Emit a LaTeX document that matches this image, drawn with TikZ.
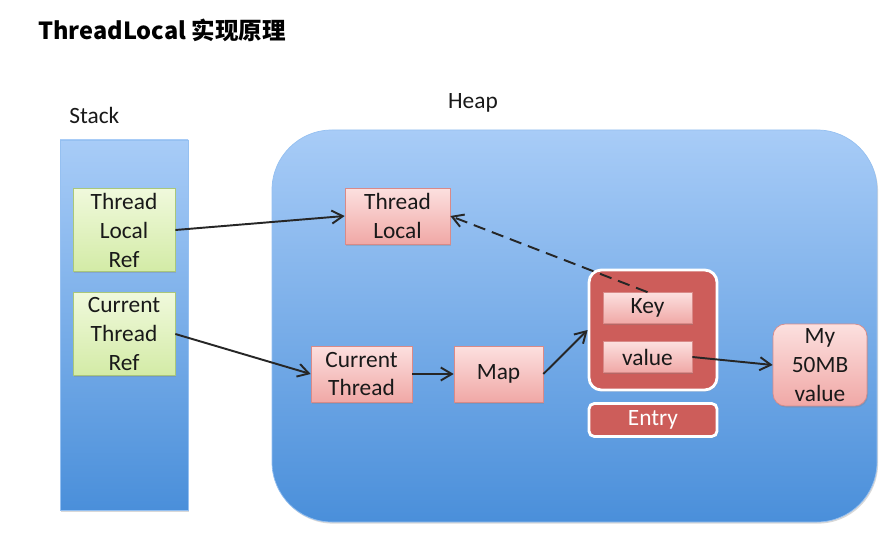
\documentclass[tikz,border=0pt]{standalone}
\usepackage{fontspec}
\setmainfont{Carlito}
\newfontfamily\cjk{Noto Sans CJK SC}
\usetikzlibrary{arrows.meta,shadows}

\definecolor{blueTop}{HTML}{A8CCF7}
\definecolor{blueBot}{HTML}{4A8FDA}
\definecolor{pinkTop}{HTML}{FCE0DF}
\definecolor{pinkBot}{HTML}{F0A8A6}
\definecolor{pinkLine}{HTML}{D98A88}
\definecolor{greenTop}{HTML}{F0F9DC}
\definecolor{greenBot}{HTML}{D3EBA6}
\definecolor{greenLine}{HTML}{A9C77A}
\definecolor{entryRed}{HTML}{CD5D5A}
\definecolor{arrowGray}{HTML}{262626}

\begin{document}
\begin{tikzpicture}[
  x=0.02cm, y=-0.02cm,
  every node/.style={
    font=\fontsize{13.3}{16.5}\selectfont, align=center, inner sep=0pt,
    text=black!90
  },
  softshadow/.style={
    drop shadow={opacity=0.3, shadow xshift=0.6pt, shadow yshift=-0.9pt}
  },
  refbox/.style={
    draw=greenLine, top color=greenTop, bottom color=greenBot, softshadow,
    minimum width=2.04cm, minimum height=1.67cm
  },
  objbox/.style={
    draw=pinkLine, top color=pinkTop, bottom color=pinkBot, softshadow,
    minimum height=1.12cm
  },
  entrybox/.style={
    draw=white, line width=1.6pt, fill=entryRed, rounded corners=3pt, softshadow,
    minimum width=2.56cm
  },
  arr/.style={
    draw=arrowGray, line width=1.1pt, -{Straight Barb[length=2.2mm,width=2.6mm]}
  }
  ]
  \useasboundingbox[fill=white] (0,0) rectangle (884,536);

  % title and area labels
  \node[anchor=west, font=\cjk\bfseries\fontsize{13.4}{16}\selectfont, text=black] (title) at (38,30) {ThreadLocal 实现原理};
  \node[anchor=west] (stacklbl) at (69,115) {Stack};
  \node (heaplbl) at (473,103) {Heap};

  % stack and heap areas
  \draw[draw=blueTop!80!blueBot, top color=blueTop, bottom color=blueBot, softshadow] (60,140) rectangle (188,510);
  \draw[draw=blueTop!80!blueBot, top color=blueTop, bottom color=blueBot, softshadow, rounded corners=1.2cm] (272,130) rectangle (877,522);

  % stack refs
  \node[refbox] (tlref) at (124,230) {Thread\\Local\\Ref};
  \node[refbox] (ctref) at (124,334) {Current\\Thread\\Ref};

  % heap objects
  \node[objbox, minimum width=2.1cm] (tl) at (397.5,216) {Thread\\Local};
  \node[objbox, minimum width=2.02cm] (ct) at (361.5,374) {Current\\Thread};
  \node[objbox, minimum width=1.78cm] (map) at (498.5,374) {Map};
  \node[entrybox, minimum height=2.4cm, rounded corners=7pt] (entry) at (653,330) {};
  \node[objbox, minimum width=1.78cm, minimum height=0.62cm] (key) at (647.5,308) {Key};
  \node[objbox, minimum width=1.78cm, minimum height=0.62cm] (val) at (647.5,357) {value};
  \node[entrybox, minimum height=0.66cm, text=white] (entrylbl) at (653,420) {Entry};
  \node[objbox, minimum width=1.88cm, minimum height=1.64cm, rounded corners=7pt] (big) at (820,365) {My\\50MB\\value};

  % references
  \draw[arr] (tlref.east) -- (tl.west);
  \draw[arr] (ctref.east) -- (ct.west);
  \draw[arr] (ct.east) -- (map.west);
  \draw[arr] (map.east) -- (entry.west);
  \draw[arr] (val.east) -- (big.west);
  \draw[arr, dashed, dash pattern=on 7pt off 4pt] (key.north) -- (tl.east);
\end{tikzpicture}
\end{document}
